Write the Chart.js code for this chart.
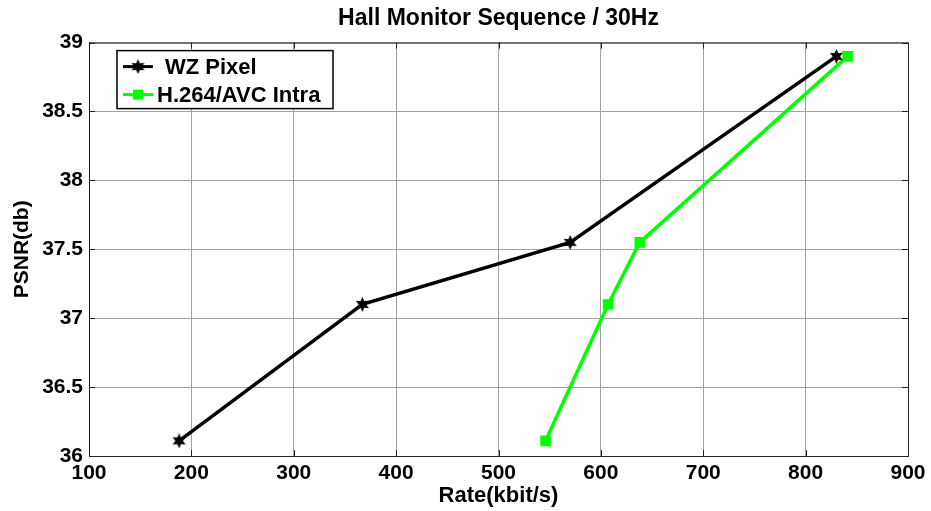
<!DOCTYPE html>
<html>
<head>
<meta charset="utf-8">
<script src="https://cdn.jsdelivr.net/npm/chart.js@4.4.1/dist/chart.umd.min.js"></script>
<style>
  html, body { margin:0; padding:0; background:#fff; }
  #wrap { width:931px; height:511px; }
</style>
</head>
<body>
<div id="wrap"><canvas id="rdChart" width="931" height="511"></canvas></div>
<script>
// ---- Data ----
const psnrPoints = [36.11, 37.1, 37.55, 38.9];
const wzRate = [188, 367, 570, 830];
const h264Rate = [546, 607, 638, 841];
const seriesNames = ['WZ Pixel', 'H.264/AVC Intra'];
const xTicks = [100, 200, 300, 400, 500, 600, 700, 800, 900];
const yTicks = [36, 36.5, 37, 37.5, 38, 38.5, 39];

// ---- Helpers ----
const FONT = "'Liberation Sans', Arial, Helvetica, sans-serif";
const pairs = (xs, ys) => xs.map((x, i) => ({ x, y: ys[i] }));

// hexagram marker (MATLAB 'h')
function hexagram(size, color){
  const c = document.createElement('canvas');
  c.width = c.height = size;
  const g = c.getContext('2d');
  const r = size / 2, cx = r, cy = r;
  g.fillStyle = color;
  g.beginPath();
  for(let k = 0; k < 12; k++){
    const a = -Math.PI/2 + k * Math.PI/6;
    const rr = k % 2 === 0 ? r : r * 0.5;
    const px = cx + rr*Math.cos(a), py = cy + rr*Math.sin(a);
    k === 0 ? g.moveTo(px, py) : g.lineTo(px, py);
  }
  g.closePath();
  g.fill();
  return c;
}
const starMark = hexagram(15, '#000');

// ---- Box, inward ticks and legend ----
const framePlugin = {
  id: 'frame',
  afterDraw(chart){
    const { ctx, chartArea: a, scales } = chart;
    ctx.save();
    ctx.strokeStyle = '#222';
    ctx.lineWidth = 1;
    ctx.strokeRect(a.left + .5, a.top + .5, a.right - a.left, a.bottom - a.top);
    ctx.beginPath();
    xTicks.forEach(v => {
      const px = Math.round(scales.x.getPixelForValue(v)) + .5;
      ctx.moveTo(px, a.bottom); ctx.lineTo(px, a.bottom - 6);
      ctx.moveTo(px, a.top); ctx.lineTo(px, a.top + 6);
    });
    yTicks.forEach(v => {
      const py = Math.round(scales.y.getPixelForValue(v)) + .5;
      ctx.moveTo(a.left, py); ctx.lineTo(a.left + 6, py);
      ctx.moveTo(a.right, py); ctx.lineTo(a.right - 6, py);
    });
    ctx.stroke();

    // legend box
    const lx = a.left + 28, ly = a.top + 8, lw = 216, lh = 58;
    ctx.fillStyle = '#fff';
    ctx.fillRect(lx, ly, lw, lh);
    ctx.lineWidth = 1.5;
    ctx.strokeStyle = '#000';
    ctx.strokeRect(lx, ly, lw, lh);
    ctx.font = 'bold 22px ' + FONT;
    ctx.textBaseline = 'middle';
    chart.data.datasets.forEach((ds, i) => {
      const y = ly + 16 + i * 28;
      ctx.strokeStyle = ds.borderColor;
      ctx.lineWidth = 3;
      ctx.beginPath(); ctx.moveTo(lx + 6, y); ctx.lineTo(lx + 36, y); ctx.stroke();
      if(i === 0){
        ctx.drawImage(starMark, lx + 21 - 7.5, y - 7.5);
      } else {
        ctx.fillStyle = ds.pointBackgroundColor;
        ctx.fillRect(lx + 21 - 5, y - 5, 10, 10);
      }
      ctx.fillStyle = '#000';
      ctx.fillText(ds.label, lx + (i === 0 ? 48 : 40), y + 1);
    });
    ctx.restore();
  }
};

const tickFont = { family: FONT, size: 21, weight: 'bold' };
const labelFont = { family: FONT, size: 22, weight: 'bold' };

new Chart(document.getElementById('rdChart'), {
  type: 'line',
  data: {
    datasets: [
      {
        label: seriesNames[0],
        data: pairs(wzRate, psnrPoints),
        borderColor: '#000',
        borderWidth: 3.5,
        pointStyle: starMark,
        pointRadius: 7,
        tension: 0
      },
      {
        label: seriesNames[1],
        data: pairs(h264Rate, psnrPoints),
        borderColor: '#00ff00',
        borderWidth: 3.5,
        pointStyle: 'rect',
        pointRadius: 5,
        pointBackgroundColor: '#00ff00',
        pointBorderColor: '#00ff00',
        tension: 0
      }
    ]
  },
  options: {
    responsive: false,
    animation: false,
    layout: { padding: { left: 0, right: 23, top: 0, bottom: 0 } },
    plugins: {
      legend: { display: false },
      tooltip: { enabled: false },
      title: {
        display: true,
        fullSize: false,
        text: 'Hall Monitor Sequence / 30Hz',
        color: '#000',
        font: { family: FONT, size: 23, weight: 'bold' },
        padding: { top: 5, bottom: 10 }
      }
    },
    scales: {
      x: {
        type: 'linear',
        min: 100, max: 900,
        afterBuildTicks: s => { s.ticks = xTicks.map(v => ({ value: v })); },
        afterFit: s => { s.height = 55; },
        ticks: { color: '#000', padding: 5, font: tickFont, callback: v => String(v) },
        grid: { color: '#a0a0a0', lineWidth: 1, drawTicks: false },
        border: { color: '#222', width: 1 },
        title: {
          display: true, text: 'Rate(kbit/s)', color: '#000',
          font: labelFont,
          padding: { top: 0, bottom: 2 }
        }
      },
      y: {
        type: 'linear',
        min: 36, max: 39,
        afterBuildTicks: s => { s.ticks = yTicks.map(v => ({ value: v })); },
        afterFit: s => { s.width = 89; },
        ticks: { color: '#000', padding: 6, font: tickFont, callback: v => String(v) },
        grid: { color: '#a0a0a0', lineWidth: 1, drawTicks: false },
        border: { color: '#222', width: 1 },
        title: {
          display: true, text: 'PSNR(db)', color: '#000',
          font: tickFont,
          padding: { top: 10, bottom: 0 }
        }
      }
    }
  },
  plugins: [framePlugin]
});
</script>
</body>
</html>
